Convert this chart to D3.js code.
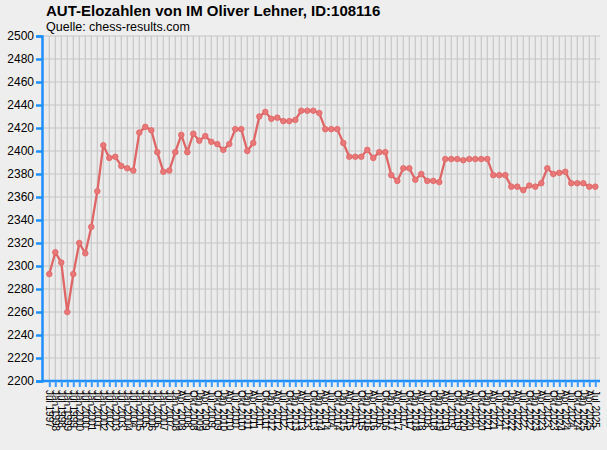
<!DOCTYPE html>
<html><head><meta charset="utf-8">
<script src="https://cdn.jsdelivr.net/npm/d3@7"></script>
<style>body{margin:0;background:#eeeeee;}svg{display:block;}</style>
</head><body>
<svg id="c" width="607" height="450"></svg>
<script>
const title = "AUT-Elozahlen von IM Oliver Lehner, ID:108116";
const subtitle = "Quelle: chess-results.com";
const dates = [
"Jul 1997","Jan 1998","Jul 1998","Jan 1999","Jul 1999","Jan 2000","Jul 2000","Jan 2001","Jul 2001","Jan 2002","Jul 2002",
"Jan 2003","Jul 2003","Jan 2004","Jul 2004","Jan 2005","Jul 2005","Jan 2006","Jul 2006","Jan 2007","Jul 2007","Jan 2008",
"Apr 2008","Jul 2008","Okt 2008","Jan 2009","Apr 2009","Jul 2009","Okt 2009","Jan 2010","Apr 2010","Jul 2010","Okt 2010",
"Jan 2011","Apr 2011","Jul 2011","Okt 2011","Jan 2012","Apr 2012","Jul 2012","Okt 2012","Jan 2013","Apr 2013","Jul 2013","Okt 2013",
"Jan 2014","Apr 2014","Jul 2014","Okt 2014","Jan 2015","Apr 2015","Jul 2015","Okt 2015","Jan 2016","Apr 2016","Jul 2016","Okt 2016",
"Jan 2017","Apr 2017","Jul 2017","Okt 2017","Jan 2018","Apr 2018","Jul 2018","Okt 2018","Jan 2019","Apr 2019","Jul 2019","Okt 2019",
"Jan 2020","Apr 2020","Jul 2020","Okt 2020","Jan 2021","Apr 2021","Jul 2021","Okt 2021","Jan 2022","Apr 2022","Jul 2022","Okt 2022",
"Jan 2023","Apr 2023","Jul 2023","Okt 2023","Jan 2024","Apr 2024","Jul 2024","Okt 2024","Jan 2025","Apr 2025","Jul 2025"
];
const ratings = [
2293,2312,2303,2260,2293,2320,2311,2334,2365,2405,2394,2395,2387,2385,2383,2416,2421,2418,2399,2382,
2383,2399,2414,2399,2415,2409,2413,2408,2406,2401,2406,2419,2419,2400,2407,2430,2434,2428,2429,2426,
2426,2427,2435,2435,2435,2433,2419,2419,2419,2407,2395,2395,2395,2401,2394,2399,2399,2379,2374,2385,
2385,2375,2380,2374,2374,2373,2393,2393,2393,2392,2393,2393,2393,2393,2379,2379,2379,2369,2369,2366,
2370,2369,2372,2385,2380,2381,2382,2372,2372,2372,2369,2369
];
const yTicks = d3.range(2200, 2501, 20);

const svg = d3.select("#c");
const pL = 42, pR = 600, pT = 36, pB = 381;
const x = d3.scalePoint().domain(dates).range([49.3, 595.3]);
const y = d3.scaleLinear().domain([2200, 2500]).range([pB, pT]);

svg.append("rect").attr("x", pL).attr("y", pT).attr("width", pR-pL).attr("height", pB-pT).attr("fill", "#ebebeb");

// grid
svg.append("g").selectAll("line").data(yTicks).join("line")
  .attr("x1", pL).attr("x2", pR).attr("y1", d=>y(d)).attr("y2", d=>y(d))
  .attr("stroke", "#c6c6c6").attr("stroke-width", 1.2);
svg.append("g").selectAll("line").data(dates).join("line")
  .attr("x1", d=>x(d)).attr("x2", d=>x(d)).attr("y1", pT).attr("y2", pB)
  .attr("stroke", "#c8c8c8").attr("stroke-width", 1.2);

// y axis
const ya = svg.append("g").attr("transform", `translate(${pL},0)`)
  .call(d3.axisLeft(y).tickValues(yTicks).tickSize(6).tickPadding(2).tickFormat(d3.format("d")));
ya.select(".domain").attr("stroke", "#1e8fff").attr("stroke-width", 2.5);
ya.selectAll(".tick line").attr("stroke", "#1e8fff").attr("stroke-width", 2.5);
ya.selectAll("text").attr("font-family", "Liberation Sans, Arial, sans-serif").attr("font-size", 12).attr("fill", "#000");

// x axis
const xa = svg.append("g").attr("transform", `translate(0,${pB})`)
  .call(d3.axisBottom(x).tickSize(6).tickPadding(0));
xa.select(".domain").attr("stroke", "#1e8fff").attr("stroke-width", 2.5).attr("d", `M${pL},0H${pR}`);
xa.selectAll(".tick line").attr("stroke", "#3d9cff").attr("stroke-width", 2);
xa.selectAll("text")
  .attr("font-family", "Liberation Sans, Arial, sans-serif").attr("font-size", 10).attr("fill", "#000")
  .attr("text-anchor", "start").attr("dy", "0.35em")
  .attr("transform", "translate(0,9) rotate(90)").attr("x", 0).attr("y", 0);

// line
const line = d3.line().x((d,i)=>x(dates[i])).y(d=>y(d));
svg.append("path").datum(ratings).attr("d", line).attr("fill", "none")
  .attr("stroke", "#df6666").attr("stroke-width", 2.3).attr("stroke-linejoin", "round");
svg.append("g").selectAll("circle").data(ratings).join("circle")
  .attr("cx", (d,i)=>x(dates[i])).attr("cy", d=>y(d)).attr("r", 2.8)
  .attr("fill", "#e87777").attr("stroke", "#df6666").attr("stroke-width", 0.8);

svg.append("text").attr("x", 46).attr("y", 16).text(title)
  .attr("font-family", "Liberation Sans, Arial, sans-serif").attr("font-size", 15).attr("font-weight", "bold").attr("fill", "#000");
svg.append("text").attr("x", 46).attr("y", 31).text(subtitle)
  .attr("font-family", "Liberation Sans, Arial, sans-serif").attr("font-size", 12.5).attr("fill", "#000");
</script>
</body></html>
